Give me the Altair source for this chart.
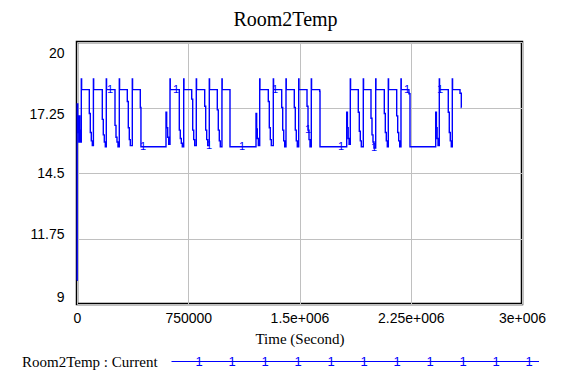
import bisect
import altair as alt
import pandas as pd

# ---------------- text ----------------
title_text = "Room2Temp"
x_title = "Time (Second)"
legend_label = "Room2Temp : Current"

# ---------------- axes ----------------
x_ticks = [0, 750000, 1500000, 2250000, 3000000]
x_tick_labels = ["0", "750000", "1.5e+006", "2.25e+006", "3e+006"]
y_ticks = [9, 11.75, 14.5, 17.25, 20]
y_tick_labels = ["9", "11.75", "14.5", "17.25", "20"]

SECONDS_PER_DAY = 86400

# ---------------- series (time in days, temperature) ----------------
t_days = [
    0.000, 0.015, 0.060, 0.100, 0.140, 0.180, 0.215, 0.255, 0.336, 0.360,
    0.960, 1.038, 1.116, 1.194, 1.280, 1.300,
    1.974, 2.052, 2.130, 2.208, 2.286, 2.306,
    2.965, 3.043, 3.121, 3.199, 3.301, 3.321,
    3.925, 4.003, 4.081, 4.159, 4.315, 4.335,
    4.939, 4.990,
    6.944, 6.998, 7.076, 7.154, 7.257, 7.277,
    7.982, 8.060, 8.138, 8.216, 8.326, 8.346,
    8.950, 9.028, 9.106, 9.184, 9.308, 9.328,
    9.964, 10.042, 10.120, 10.198, 10.322, 10.342,
    10.947, 11.025, 11.103, 11.181, 11.310, 11.330,
    11.938,
    13.967, 14.020, 14.070, 14.150, 14.255, 14.275,
    14.927, 15.005, 15.083, 15.161, 15.317, 15.337,
    15.972, 16.050, 16.128, 16.206, 16.308, 16.328,
    16.955, 17.033, 17.111, 17.189, 17.299, 17.319,
    17.947, 18.025, 18.103, 18.181, 18.282, 18.302,
    18.935, 18.961,
    21.044, 21.100, 21.160, 21.230, 21.325, 21.345,
    21.949, 22.027, 22.105, 22.183, 22.339, 22.359,
    22.940, 23.018, 23.096, 23.174, 23.307, 23.327,
    23.978, 24.056, 24.134, 24.212, 24.290, 24.310,
    24.945, 25.023, 25.101, 25.179, 25.280, 25.300,
    25.900, 25.983,
    27.988, 28.045, 28.100, 28.170, 28.270, 28.290,
    28.970, 29.048, 29.126, 29.204, 29.284, 29.304,
    29.885, 29.987, 30.000,
]
temp = [
    10.0, 17.4, 16.9, 16.2, 15.8, 16.9, 16.3, 15.8, 18.45, 18.0,
    17.0, 16.2, 15.85, 15.65, 18.45, 18.0,
    16.75, 16.1, 15.8, 15.6, 18.45, 18.0,
    16.5, 16.0, 15.8, 15.6, 18.45, 18.0,
    17.5, 16.4, 15.9, 15.65, 18.45, 18.0,
    17.25, 15.6,
    17.05, 16.4, 16.0, 15.7, 18.45, 18.0,
    16.3, 15.95, 15.75, 15.6, 18.45, 18.0,
    17.6, 16.3, 15.9, 15.65, 18.45, 18.0,
    17.3, 16.3, 15.9, 15.65, 18.45, 18.0,
    17.15, 16.3, 15.85, 15.6, 18.45, 18.0,
    15.6,
    17.0, 16.35, 15.95, 15.65, 18.45, 18.0,
    17.5, 16.4, 15.9, 15.65, 18.45, 18.0,
    17.25, 16.3, 15.85, 15.6, 18.45, 18.0,
    17.25, 16.3, 15.85, 15.6, 18.45, 18.0,
    17.3, 16.3, 15.9, 15.6, 18.45, 18.0,
    17.93, 15.6,
    17.05, 16.4, 15.95, 15.7, 18.45, 18.0,
    17.05, 16.25, 15.85, 15.6, 18.45, 18.0,
    16.8, 16.1, 15.8, 15.55, 18.45, 18.0,
    17.0, 16.2, 15.85, 15.6, 18.45, 18.0,
    16.9, 16.2, 15.85, 15.6, 18.45, 18.0,
    17.83, 15.6,
    17.05, 16.4, 15.95, 15.65, 18.45, 18.0,
    17.05, 16.2, 15.85, 15.6, 18.45, 18.0,
    17.85, 17.25, 17.25,
]

# series-number markers ("1") drawn along the line, times in days
marker_days = [2.575, 5.15, 7.725, 10.3, 12.875, 15.45, 18.025, 20.6, 23.175, 25.75, 28.325]
legend_marker_count = 11

# ---------------- styles ----------------
BLUE = "#0000ff"
GRID = "#c0c0c0"
SERIF = "Liberation Serif"
SANS = "Liberation Sans"
W, H = 445, 262

df = pd.DataFrame({"t": [d * SECONDS_PER_DAY for d in t_days], "v": temp})


def value_at(day):
    i = bisect.bisect_right(t_days, day) - 1
    return temp[max(i, 0)]


mk = pd.DataFrame({
    "t": [d * SECONDS_PER_DAY for d in marker_days],
    "v": [value_at(d) for d in marker_days],
    "s": ["1"] * len(marker_days),
})


def label_expr(values, labels):
    expr = "''"
    for v, l in zip(values, labels):
        expr = f"datum.value == {v} ? '{l}' : ({expr})"
    return expr


x_scale = alt.Scale(domain=[0, 3000000], nice=False, zero=False)
y_scale = alt.Scale(domain=[9, 20], nice=False, zero=False)

x_axis = alt.Axis(
    values=x_ticks, labelExpr=label_expr(x_ticks, x_tick_labels),
    grid=True, gridColor=GRID, gridWidth=1, domain=False, ticks=False,
    labelFont=SANS, labelFontSize=14, labelColor="black", labelPadding=7,
    labelFlush=False, labelOverlap=False,
    title=x_title, titleFont=SERIF, titleFontSize=15, titleFontWeight="normal",
    titleColor="black", titleY=34, titleBaseline="middle",
)
y_axis = alt.Axis(
    values=y_ticks, labelExpr=label_expr(y_ticks, y_tick_labels),
    grid=True, gridColor=GRID, gridWidth=1, domain=False, ticks=False,
    labelFont=SANS, labelFontSize=14, labelColor="black", labelPadding=13,
    labelFlush=False, labelOverlap=False, labelLineHeight=22,
    labelBaseline={
        "condition": [
            {"test": "datum.value > 19", "value": "line-top"},
            {"test": "datum.value > 15", "value": "top"},
            {"test": "datum.value < 10", "value": "bottom"},
            {"test": "datum.value < 14", "value": "alphabetic"},
        ],
        "value": "middle",
    },
    title=None,
)

line = alt.Chart(df).mark_line(interpolate="step-after", color=BLUE, strokeWidth=1.4).encode(
    x=alt.X("t:Q", scale=x_scale, axis=x_axis),
    y=alt.Y("v:Q", scale=y_scale, axis=y_axis),
)

markers = alt.Chart(mk).mark_text(
    font=SANS, fontSize=11, color=BLUE, align="center", baseline="middle"
).encode(
    x=alt.X("t:Q", scale=x_scale),
    y=alt.Y("v:Q", scale=y_scale),
    text="s:N",
)

# ---- chart title (pixel position relative to plot area) ----
title_mark = alt.Chart(pd.DataFrame({"label": [title_text]})).mark_text(
    font=SERIF, fontSize=20, color="black", align="center", baseline="middle"
).encode(x=alt.value(208.5), y=alt.value(-22), text="label:N")

# ---- legend drawn below the plot (pixel positions relative to plot area) ----
LEG_Y = 319.5
leg_text = alt.Chart(pd.DataFrame({"label": [legend_label]})).mark_text(
    font=SERIF, fontSize=15, color="black", align="left", baseline="middle"
).encode(x=alt.value(-55), y=alt.value(LEG_Y), text="label:N")

leg_line = alt.Chart(pd.DataFrame({"k": [0]})).mark_rule(color=BLUE, strokeWidth=1.2).encode(
    x=alt.value(94.5), x2=alt.value(462), y=alt.value(LEG_Y)
)

leg_marks = alt.Chart(pd.DataFrame({"i": list(range(legend_marker_count))})).transform_calculate(
    px="122 + 33 * datum.i", s="'1'"
).mark_text(
    font=SANS, fontSize=13, color=BLUE, align="center", baseline="middle"
).encode(x=alt.X("px:Q", scale=None, axis=None), y=alt.value(LEG_Y), text="s:N")

chart = alt.layer(line, markers, title_mark, leg_text, leg_line, leg_marks).properties(
    width=W, height=H,
    padding={"left": 69, "top": 34, "right": 41, "bottom": 67},
    autosize=alt.AutoSizeParams(type="none"),
    background="white",
).configure_view(stroke="black", strokeWidth=2.5)

chart.save("out.html", embed_options={"renderer": "svg", "actions": False})
